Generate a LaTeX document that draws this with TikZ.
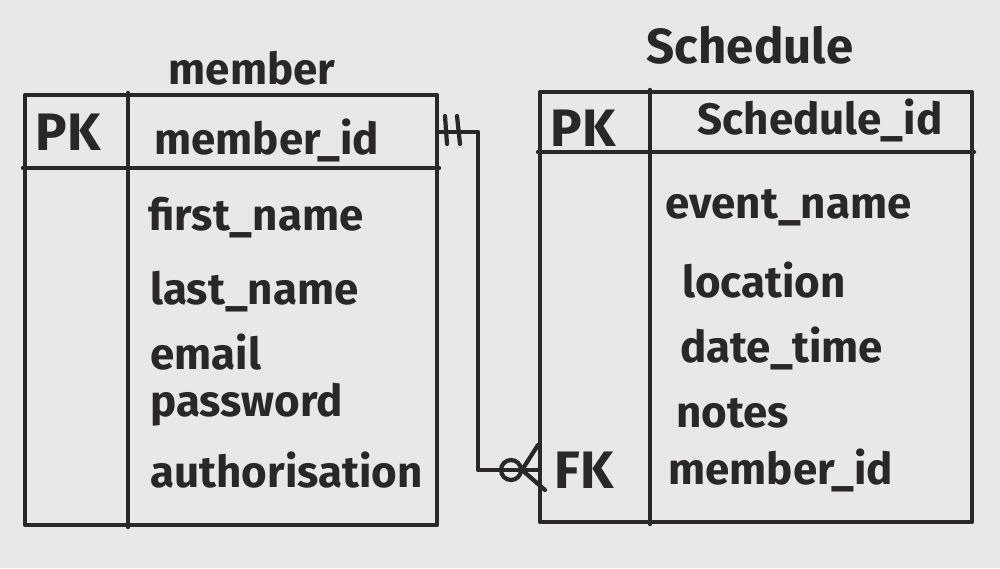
\documentclass[tikz,border=0pt]{standalone}
\usepackage{fontspec}
\setmainfont{Fira Sans}
\definecolor{board}{HTML}{E8E8E6}
\definecolor{ink}{HTML}{2A2826}
\begin{document}
\begin{tikzpicture}[x=0.02cm,y=-0.02cm,
  line/.style={draw=ink,line width=2.4pt,line cap=round,line join=round},
  tablebox/.style={line,rectangle,inner sep=0pt},
  lbl/.style={text=ink,font=\fontsize{25}{27}\bfseries\selectfont,inner sep=0pt},
  big/.style={text=ink,font=\fontsize{30}{32}\bfseries\selectfont,inner sep=0pt},
  fld/.style={lbl,anchor=west},
  ttl/.style={text=ink,font=\fontsize{25}{27}\bfseries\selectfont,inner sep=0pt}]
\fill[board] (0,0) rectangle (1000,568);
\useasboundingbox (0,0) rectangle (1000,568);
% member table
\node[tablebox,minimum width=412*0.02cm,minimum height=430*0.02cm] (member) at (231,310) {};
\draw[line] (member.west |- 0,168) -- (member.east |- 0,168);
\draw[line] (128,0 |- member.north) -- (128,0 |- member.south);
\node[ttl] (mtitle) at (252,68) {member};
\node[big] (mpk) at (68,132) {PK};
\node[lbl,anchor=west] (mid) at (154,140) {member\_id};
\node[fld] (f1) at (148,218) {first\_name};
\node[fld] (f2) at (150,292) {last\_name};
\node[fld] (f3) at (150,352) {email};
\node[fld] (f4) at (150,405) {password};
\node[fld] (f5) at (150,470) {authorisation};
% schedule table
\node[tablebox,minimum width=432*0.02cm,minimum height=430*0.02cm] (schedule) at (756,307) {};
\draw[line] (schedule.west |- 0,152) -- (schedule.east |- 0,152);
\draw[line] (650,0 |- schedule.north) -- (650,0 |- schedule.south);
\node[text=ink,font=\fontsize{28}{30}\bfseries\selectfont,inner sep=0pt] (stitle) at (750,45) {Schedule};
\node[big] (spk) at (583,128) {PK};
\node[lbl] (sid) at (820,120) {Schedule\_id};
\node[fld] (g1) at (665,208) {event\_name};
\node[fld] (g2) at (682,280) {location};
\node[fld] (g3) at (680,348) {date\_time};
\node[fld] (g4) at (676,413) {notes};
\node[fld] (g5) at (668,470) {member\_id};
\node[big] (sfk) at (584,470) {FK};
% relationship
\coordinate (a) at (member.east |- 0,132);
\coordinate (b) at (schedule.west |- 0,470);
\draw[line] (a) -- (478,132) -- (478,470) -- (b);
% one and only one
\draw[line] (445,116) -- (447,144);
\draw[line] (457,116) -- (460,144);
% zero or many
\draw[line] (511,470) circle (10);
\draw[line] (538,445) -- (522,470) -- (545,490);
\end{tikzpicture}
\end{document}
